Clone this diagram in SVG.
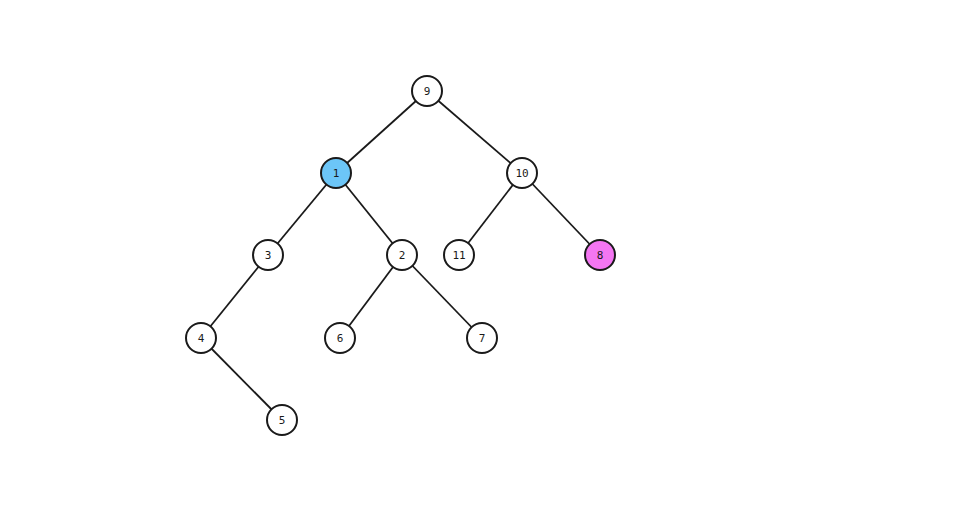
<svg xmlns="http://www.w3.org/2000/svg" width="960" height="514" viewBox="0 0 960 514">
<style>
.n circle{fill:#ffffff;stroke:#1a1a1a;stroke-width:2}
.n text{font-family:"DejaVu Sans Mono","Liberation Mono",monospace;font-size:11px;fill:#1a1a1a;text-anchor:middle;dominant-baseline:central}
#edges line{stroke:#1a1a1a;stroke-width:1.8}
</style>
<rect width="960" height="514" fill="#ffffff"/>
<g id="edges">
<line x1="427" y1="91" x2="336" y2="173"/>
<line x1="427" y1="91" x2="522" y2="173"/>
<line x1="336" y1="173" x2="268" y2="255"/>
<line x1="336" y1="173" x2="402" y2="255"/>
<line x1="522" y1="173" x2="459" y2="255"/>
<line x1="522" y1="173" x2="600" y2="255"/>
<line x1="268" y1="255" x2="201" y2="338"/>
<line x1="402" y1="255" x2="340" y2="338"/>
<line x1="402" y1="255" x2="482" y2="338"/>
<line x1="201" y1="338" x2="282" y2="420"/>
</g>
<g id="n9" class="n"><circle cx="427" cy="91" r="15"/><text x="427" y="91">9</text></g>
<g id="n1" class="n"><circle cx="336" cy="173" r="15" style="fill:#6cc6f8"/><text x="336" y="173">1</text></g>
<g id="n10" class="n"><circle cx="522" cy="173" r="15"/><text x="522" y="173">10</text></g>
<g id="n3" class="n"><circle cx="268" cy="255" r="15"/><text x="268" y="255">3</text></g>
<g id="n2" class="n"><circle cx="402" cy="255" r="15"/><text x="402" y="255">2</text></g>
<g id="n11" class="n"><circle cx="459" cy="255" r="15"/><text x="459" y="255">11</text></g>
<g id="n8" class="n"><circle cx="600" cy="255" r="15" style="fill:#f476f2"/><text x="600" y="255">8</text></g>
<g id="n4" class="n"><circle cx="201" cy="338" r="15"/><text x="201" y="338">4</text></g>
<g id="n6" class="n"><circle cx="340" cy="338" r="15"/><text x="340" y="338">6</text></g>
<g id="n7" class="n"><circle cx="482" cy="338" r="15"/><text x="482" y="338">7</text></g>
<g id="n5" class="n"><circle cx="282" cy="420" r="15"/><text x="282" y="420">5</text></g>
</svg>
